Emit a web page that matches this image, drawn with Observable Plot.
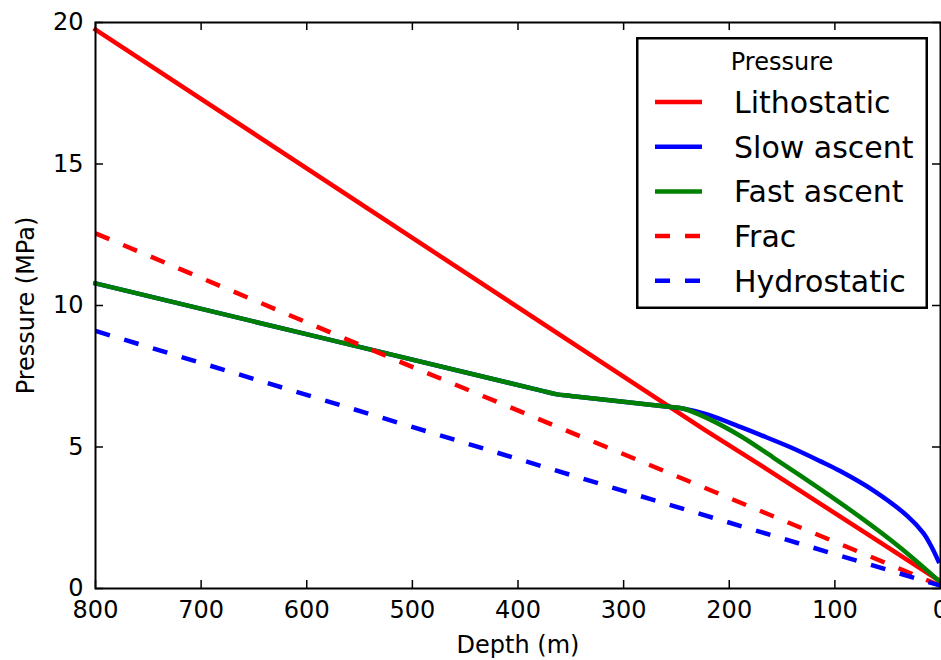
<!DOCTYPE html>
<html>
<head>
<meta charset="utf-8">
<script src="https://cdn.jsdelivr.net/npm/d3@7"></script>
<script src="https://cdn.jsdelivr.net/npm/@observablehq/plot@0.6"></script>
<style>
  html, body { margin: 0; padding: 0; background: white; }
  #wrap { position: relative; width: 941px; height: 660px; overflow: hidden; font-family: "DejaVu Sans", sans-serif; }
  #legend { position: absolute; left: 636px; top: 37px; }
</style>
</head>
<body>
<div id="wrap"><div id="chart"></div><div id="legend"></div></div>
<script>
// ---- data ----
const depthTicks = [800, 700, 600, 500, 400, 300, 200, 100, 0];
const pressureTicks = [0, 5, 10, 15, 20];
const xLabel = "Depth (m)";
const yLabel = "Pressure (MPa)";
const legendTitle = "Pressure";

const seriesNames  = ["Lithostatic", "Slow ascent", "Fast ascent", "Frac", "Hydrostatic"];
const seriesColors = ["#ff0000", "#0000ff", "#008000", "#ff0000", "#0000ff"];
const seriesDashed = [false, false, false, true, true];

const lithoDepth = [800, 224, 170, 114, 63, 0];
const lithoP     = [19.75, 5.62, 4.35, 3.0, 1.77, 0.25];

const slowDepth = [800, 380, 363, 350, 260, 244, 221, 189, 170, 142, 114, 95, 63, 31, 16, 9, 2];
const slowP     = [10.78, 7.01, 6.86, 6.805, 6.43, 6.36, 6.15, 5.70, 5.42, 4.99, 4.50, 4.15, 3.45, 2.55, 1.95, 1.51, 0.97];

const fastDepth = [800, 380, 363, 350, 260, 244, 221, 189, 158, 133, 111, 76, 38, 0];
const fastP     = [10.78, 7.01, 6.86, 6.805, 6.43, 6.36, 6.02, 5.38, 4.62, 4.0, 3.44, 2.52, 1.44, 0.22];

const fracDepth = [800, 511, 284, 0];
const fracP     = [12.55, 8.0, 4.5, 0.1];

const hydroDepth = [800, 272, 0];
const hydroP     = [9.1, 3.13, 0.1];

// ---- build tables ----
const zip = (ds, ps) => ds.map((d, i) => ({depth: d, p: ps[i]}));
const seriesData = [
  zip(lithoDepth, lithoP),
  zip(slowDepth, slowP),
  zip(fastDepth, fastP),
  zip(fracDepth, fracP),
  zip(hydroDepth, hydroP)
];
const seriesCurves = ["linear", "catmull-rom", "catmull-rom", "linear", "linear"];

const W = 941, H = 660, mL = 95, mR = 1, mT = 22, mB = 72;
const innerW = W - mL - mR, innerH = H - mT - mB;
const tickLen = 8;
const dash = "15,15";
const lw = 4.5;

const lineMarks = seriesData.map((data, i) => Plot.line(data, {
  x: "depth", y: "p",
  stroke: seriesColors[i], strokeWidth: lw,
  strokeDasharray: seriesDashed[i] ? dash : null,
  strokeLinecap: seriesDashed[i] ? "butt" : "square",
  strokeLinejoin: "round",
  curve: seriesCurves[i]
}));

const chart = Plot.plot({
  width: W, height: H,
  marginLeft: mL, marginRight: mR, marginTop: mT, marginBottom: mB,
  style: {fontFamily: "DejaVu Sans", fontSize: "24px", color: "black", background: "white"},
  x: {domain: [800, 0]},
  y: {domain: [0, 20]},
  marks: [
    ...lineMarks,
    Plot.frame({stroke: "black", strokeWidth: 2}),
    Plot.tickX(depthTicks, {x: d => d, insetTop: innerH - tickLen, stroke: "black", strokeWidth: 1.5}),
    Plot.tickX(depthTicks, {x: d => d, insetBottom: innerH - tickLen, stroke: "black", strokeWidth: 1.5}),
    Plot.tickY(pressureTicks, {y: d => d, insetRight: innerW - tickLen, stroke: "black", strokeWidth: 1.5}),
    Plot.tickY(pressureTicks, {y: d => d, insetLeft: innerW - tickLen, stroke: "black", strokeWidth: 1.5}),
    Plot.axisX({ticks: depthTicks, tickSize: 0, tickPadding: 12, label: null, fontSize: 24, tickFormat: d => String(d)}),
    Plot.axisY({ticks: pressureTicks, tickSize: 0, tickPadding: 12, label: null, fontSize: 24, tickFormat: d => String(d)}),
    Plot.text([xLabel], {text: d => d, frameAnchor: "bottom", textAnchor: "middle", lineAnchor: "middle", dy: 57, fontSize: 24, fill: "black"}),
    Plot.text([yLabel], {text: d => d, frameAnchor: "left", textAnchor: "middle", lineAnchor: "middle", dx: -69, rotate: -90, fontSize: 24, fill: "black"})
  ]
});
document.getElementById("chart").appendChild(chart);

// ---- legend ----
const LW = 292, LH = 272;
const leg = d3.select("#legend").append("svg")
  .attr("width", LW).attr("height", LH)
  .style("font-family", "DejaVu Sans");
leg.append("rect").attr("x", 1.25).attr("y", 1.25).attr("width", LW - 2.5).attr("height", LH - 2.5)
  .attr("fill", "white").attr("stroke", "black").attr("stroke-width", 2.5);
leg.append("text").attr("x", LW / 2).attr("y", 25).attr("dy", "0.35em")
  .attr("text-anchor", "middle").attr("font-size", 24).text(legendTitle);
seriesNames.forEach((name, i) => {
  const cy = 65 + i * 44.7;
  leg.append("line").attr("x1", 19).attr("x2", 66).attr("y1", cy).attr("y2", cy)
    .attr("stroke", seriesColors[i]).attr("stroke-width", lw)
    .attr("stroke-dasharray", seriesDashed[i] ? dash : null);
  leg.append("text").attr("x", 98).attr("y", cy).attr("dy", "0.36em")
    .attr("font-size", 30).text(name);
});
</script>
</body>
</html>
